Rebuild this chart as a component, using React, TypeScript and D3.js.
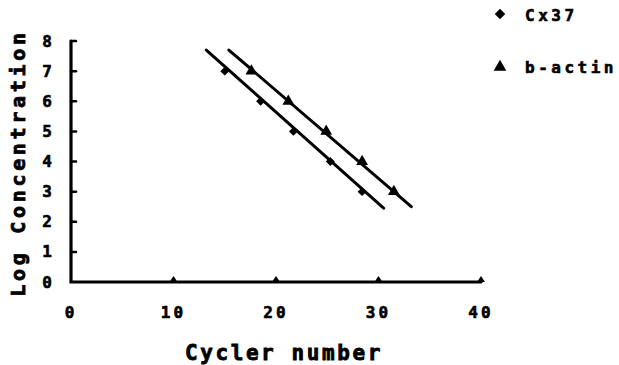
import * as d3 from "d3"

const xTicks = [0, 10, 20, 30, 40]
const yTicks = [0, 1, 2, 3, 4, 5, 6, 7, 8]

const cxCycles = [15.0, 18.5, 21.7, 25.3, 28.4]
const cxConc = [7, 6, 5, 4, 3]
const actCycles = [17.6, 21.2, 24.9, 28.4, 31.5]
const actConc = [7, 6, 5, 4, 3]

// fitted lines, drawn between these ends
const cxLineX = [13.2, 30.5]
const cxLineY = [7.7, 2.45]
const actLineX = [15.4, 33.2]
const actLineY = [7.7, 2.5]

const FONT = "'DejaVu Sans Mono', 'Liberation Mono', monospace"

export default function App() {
  const x = d3.scaleLinear().domain([0, 40]).range([71, 481])
  const y = d3.scaleLinear().domain([0, 8]).range([282, 41])
  const line = d3.line<[number, number]>().x(d => x(d[0])).y(d => y(d[1]))
  const dot = d3.symbol().type(d3.symbolSquare).size(40)()
  const tri = d3.symbol().type(d3.symbolTriangle).size(60)()
  const legDiamond = d3.symbol().type(d3.symbolSquare).size(55)()
  const legTri = d3.symbol().type(d3.symbolTriangle).size(70)()

  const fitLine = (xs: number[], ys: number[]) => line(xs.map((v, i) => [v, ys[i]] as [number, number])) || ""

  return (
    <svg width={619} height={365} style={{ position: "absolute", left: 0, top: 0, background: "#fff" }}>
      <g stroke="#000" strokeWidth={3.2} strokeLinecap="round" fill="none">
        <path d={`M${x(0)},${y(8)}V${y(0)}H${x(40)}`} />
        {yTicks.slice(1).map(t => (
          <line key={t} x1={x(0)} x2={x(0) + 5} y1={y(t)} y2={y(t)} strokeWidth={2.5} />
        ))}
      </g>
      {xTicks.slice(1).map(t => (
        <path key={t} d={`M${x(t) - 4},${y(0)}L${x(t)},${y(0) - 6}L${x(t) + 4},${y(0)}Z`} fill="#000" />
      ))}
      <g fontFamily={FONT} fontWeight={900} fontSize={16} fill="#000" stroke="#000" strokeWidth={0.6}>
        {yTicks.map(t => (
          <text key={t} x={47} y={y(t)} dy="0.35em" textAnchor="middle">{t}</text>
        ))}
        {xTicks.map(t => (
          <text key={t} x={x(t)} y={318} textAnchor="middle" letterSpacing={3}>{t}</text>
        ))}
      </g>
      <g fontFamily={FONT} fontWeight={900} fill="#000" stroke="#000" strokeWidth={0.8}>
        <text x={284} y={360} textAnchor="middle" fontSize={21} letterSpacing={2.6}>Cycler number</text>
        <text transform="translate(25,163) rotate(-90)" textAnchor="middle" fontSize={20} letterSpacing={3.7}>Log Concentration</text>
      </g>

      <g stroke="#000" strokeWidth={3} strokeLinecap="round" fill="none">
        <path d={fitLine(cxLineX, cxLineY)} />
        <path d={fitLine(actLineX, actLineY)} />
      </g>
      {cxCycles.map((c, i) => (
        <path key={"c" + i} d={dot!} transform={`translate(${x(c)},${y(cxConc[i])}) rotate(45)`} fill="#000" />
      ))}
      {actCycles.map((c, i) => (
        <path key={"a" + i} d={tri!} transform={`translate(${x(c)},${y(actConc[i])})`} fill="#000" />
      ))}

      <path d={legDiamond!} transform="translate(500,14) rotate(45)" fill="#000" />
      <path d={legTri!} transform="translate(500,67)" fill="#000" />
      <g fontFamily={FONT} fontWeight={900} fontSize={16} fill="#000" stroke="#000" strokeWidth={0.6} letterSpacing={3.5}>
        <text x={525} y={21}>Cx37</text>
        <text x={525} y={73}>b-actin</text>
      </g>
    </svg>
  )
}
